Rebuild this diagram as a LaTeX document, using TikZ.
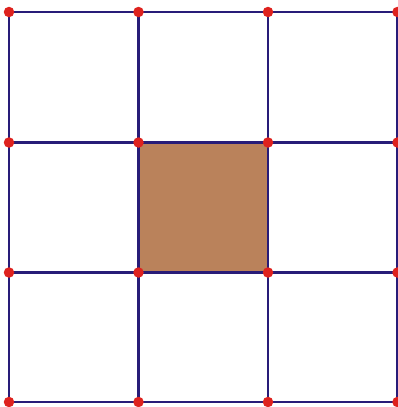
\documentclass[tikz,border=0pt]{standalone}
\definecolor{gridline}{RGB}{40,28,120}
\definecolor{dotred}{RGB}{222,34,30}
\definecolor{cellfill}{RGB}{186,130,91}
\tikzset{gline/.style={draw=gridline,line width=2.8pt},
  gdot/.style={circle,fill=dotred,inner sep=0pt,minimum size=10.5pt}}
\begin{document}
\begin{tikzpicture}[x=1pt,y=-1pt]
\useasboundingbox (0,0) rectangle (398,407);
\foreach \i/\x in {0/9,1/138.5,2/268,3/397.5}{
  \foreach \j/\y in {0/12,1/142.5,2/272.5,3/402}{
    \coordinate (p\i\j) at (\x,\y);
  }
}
\fill[cellfill] (p11) rectangle (p22);
\foreach \i in {0,1,2,3}{
  \draw[gline] (p\i0) -- (p\i3);
  \draw[gline] (p0\i) -- (p3\i);
}
\foreach \i in {0,1,2,3}{
  \foreach \j in {0,1,2,3}{
    \node[gdot] (d\i\j) at (p\i\j) {};
  }
}
\end{tikzpicture}
\end{document}
